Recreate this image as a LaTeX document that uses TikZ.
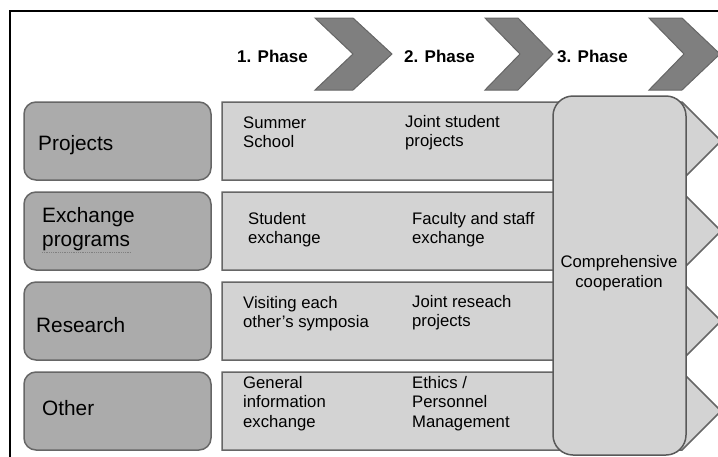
\documentclass[tikz,border=0pt]{standalone}
\usepackage{fontspec}
\setmainfont{Liberation Sans}
\definecolor{catfill}{HTML}{ABABAB}
\definecolor{rowfill}{HTML}{D3D3D3}
\definecolor{chevfill}{HTML}{7F7F7F}
\definecolor{edge}{HTML}{666666}
\definecolor{edgedark}{HTML}{595959}
\begin{document}
\begin{tikzpicture}[x=1pt,y=-1pt,
  catbox/.style={draw=edge,fill=catfill,line width=1.5pt,rounded corners=12pt},
  rowarrow/.style={draw=edge,fill=rowfill,line width=1.5pt,line join=miter},
  chevron/.style={draw=edge,fill=chevfill,line width=1pt},
  bigbox/.style={draw=edgedark,fill=rowfill,line width=1.5pt,rounded corners=20pt},
  cattext/.style={anchor=base west,inner sep=0pt,align=left,font=\fontsize{20.8}{24.5}\selectfont},
  celltext/.style={anchor=base west,inner sep=0pt,align=left,font=\fontsize{16.7}{19.8}\selectfont},
  phasetext/.style={anchor=base west,inner sep=0pt,font=\bfseries\fontsize{17}{20}\selectfont}]
\useasboundingbox (0,0) rectangle (718,456);
\begin{scope}
\clip (0,0) rectangle (718,456);
% frame
\draw[line width=2pt,black] (10,457) -- (10,11) -- (719,11);
% chevrons
\draw[chevron] (315,18) -- (353,18) -- (392,54) -- (353,90) -- (315,90) -- (353,54) -- cycle;
\draw[chevron] (485,18) -- (518,18) -- (553,54) -- (518,90) -- (485,90) -- (520,54) -- cycle;
\draw[chevron] (649,18) -- (682,18) -- (720,54) -- (682,90) -- (649,90) -- (684,54) -- cycle;
\node[phasetext] (ph1) at (237,62) {1. Phase};
\node[phasetext] (ph2) at (404,62) {2. Phase};
\node[phasetext] (ph3) at (557,62) {3. Phase};
% category boxes
\foreach \t in {102,192,282,372}{
  \draw[catbox] (24,\t) rectangle (211,\t+78);
}
% row arrows
\foreach \t in {102,192,282,372}{
  \draw[rowarrow] (222,\t) -- (682,\t) -- (721,\t+39) -- (682,\t+78) -- (222,\t+78) -- cycle;
}
% category labels (anchor = baseline of last line)
\node[cattext] (projects) at (38,150) {Projects};
\node[cattext] (exchange) at (42,246.5) {Exchange\\programs};
\draw[densely dotted,gray,line width=0.8pt] (42,252) -- (131,252);
\node[cattext] (research) at (36,332) {Research};
\node[cattext] (other) at (42,415) {Other};
% cell texts (anchor = baseline of last line)
\node[celltext] (t11) at (243,147.8) {Summer\\School};
\node[celltext] (t12) at (405,146.8) {Joint student\\projects};
\node[celltext] (t21) at (248,243.8) {Student\\exchange};
\node[celltext] (t22) at (412,243.8) {Faculty and staff\\exchange};
\node[celltext] (t31) at (243,327.8) {Visiting each\\other’s symposia};
\node[celltext] (t32) at (412,326.8) {Joint reseach\\projects};
\node[celltext] (t41) at (243,427.6) {General\\information\\exchange};
\node[celltext] (t42) at (412,427.6) {Ethics /\\Personnel\\Management};
% comprehensive cooperation
\draw[bigbox] (553,96) rectangle (686,455);
\node[anchor=base,inner sep=0pt,align=center,font=\fontsize{16.7}{20}\selectfont] (comp) at (619,287) {Comprehensive\\cooperation};
\end{scope}
\end{tikzpicture}
\end{document}
